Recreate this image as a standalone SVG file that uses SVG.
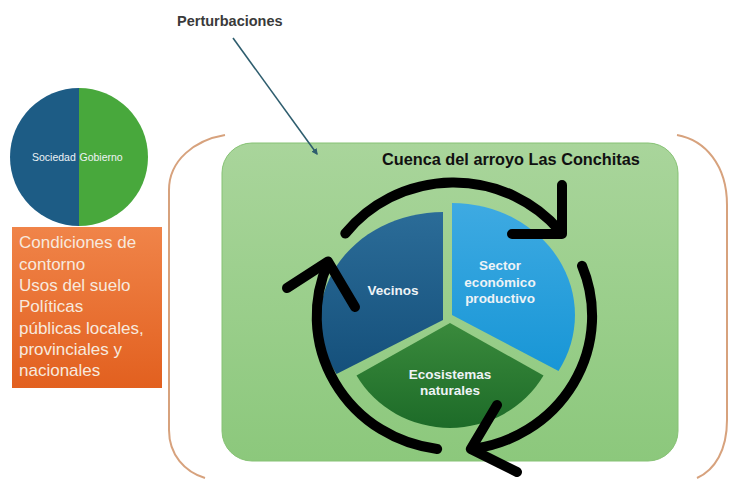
<svg xmlns="http://www.w3.org/2000/svg" width="729" height="479" viewBox="0 0 729 479">
<style>
  .lbl { font-family: "Liberation Sans", Arial, sans-serif; }
  .pie { fill: #eef3f6; font-weight: bold; font-size: 13.5px; text-anchor: middle; }
  .orange { fill: #f7e9de; font-size: 17px; }
  .ring { fill: none; stroke: #000; stroke-width: 10; stroke-linecap: round; stroke-linejoin: round; }
  .bracket { fill: none; stroke: #d7a27d; stroke-width: 2; }
</style>
<defs>
  <linearGradient id="gBox" x1="0" y1="0" x2="0" y2="1">
    <stop offset="0" stop-color="#a9d59b"/>
    <stop offset="1" stop-color="#8cc87c"/>
  </linearGradient>
  <linearGradient id="gOr" x1="0" y1="0" x2="0" y2="1">
    <stop offset="0" stop-color="#f08449"/>
    <stop offset="1" stop-color="#e2601f"/>
  </linearGradient>
  <linearGradient id="gVec" x1="0" y1="0" x2="0" y2="1">
    <stop offset="0" stop-color="#2b6c98"/>
    <stop offset="1" stop-color="#15507b"/>
  </linearGradient>
  <linearGradient id="gSec" x1="0" y1="0" x2="0" y2="1">
    <stop offset="0" stop-color="#3eaae2"/>
    <stop offset="1" stop-color="#1896d6"/>
  </linearGradient>
  <linearGradient id="gEco" x1="0" y1="0" x2="0" y2="1">
    <stop offset="0" stop-color="#3a8a3c"/>
    <stop offset="1" stop-color="#1d6b28"/>
  </linearGradient>
  <marker id="ah" viewBox="0 0 10 10" refX="8" refY="5" markerWidth="4" markerHeight="4" orient="auto">
    <path d="M0,0 L10,5 L0,10 Z" fill="#2e5d6e"/>
  </marker>
</defs>

<g id="brackets">
  <path class="bracket" d="M225,135 C195,140 169,160 169,190 L169,430 C169,455 185,472 205,478"/>
  <path class="bracket" d="M677,135 C705,140 727,165 727,205 L727,420 C727,450 715,470 697,478"/>
</g>

<g id="cuenca">
  <rect x="222" y="143" width="456" height="318" rx="30" ry="30" fill="url(#gBox)" stroke="#86c274" stroke-width="1"/>
  <text class="lbl" x="382" y="165" font-size="16.3" font-weight="bold" fill="#111">Cuenca del arroyo Las Conchitas</text>
</g>

<g id="actores">
  <path d="M79,88 A69,69 0 0,0 79,226 Z" fill="#1d5c85"/>
  <path d="M79,88 A69,69 0 0,1 79,226 Z" fill="#48a83c"/>
  <text class="lbl" x="32" y="161" font-size="10.5" fill="#eef3f6">Sociedad</text>
  <text class="lbl" x="79.5" y="161" font-size="10.5" fill="#eef3f6">Gobierno</text>
</g>

<g id="condiciones">
  <rect x="12" y="227" width="150" height="161" fill="url(#gOr)"/>
  <text class="lbl orange" x="19">
    <tspan x="19" y="248">Condiciones de</tspan>
    <tspan x="19" y="270">contorno</tspan>
    <tspan x="19" y="291">Usos del suelo</tspan>
    <tspan x="19" y="312">Políticas</tspan>
    <tspan x="19" y="334">públicas locales,</tspan>
    <tspan x="19" y="355">provinciales y</tspan>
    <tspan x="19" y="376">nacionales</tspan>
  </text>
</g>

<g id="perturbaciones">
  <text class="lbl" x="177" y="26" font-size="14.5" font-weight="bold" fill="#3a3a3a">Perturbaciones</text>
</g>

<g id="vecinos">
  <path d="M443,320 L443,212 A123,108 0 0,0 336.5,374 Z" fill="url(#gVec)"/>
  <text class="lbl pie" x="393" y="295">Vecinos</text>
</g>
<g id="sector">
  <path d="M452,315 L452,203 A123,112 0 0,1 558.5,371 Z" fill="url(#gSec)"/>
  <text class="lbl pie" x="500" y="270">Sector</text>
  <text class="lbl pie" x="500" y="287">económico</text>
  <text class="lbl pie" x="500" y="303">productivo</text>
</g>
<g id="ecosistemas">
  <path d="M450,323 L543.5,375.5 A108,105 0 0,1 356.5,375.5 Z" fill="url(#gEco)"/>
  <text class="lbl pie" x="450" y="379">Ecosistemas</text>
  <text class="lbl pie" x="450" y="395">naturales</text>
</g>

<g id="connectors">
  <line x1="233" y1="38" x2="317" y2="154" stroke="#2e5d6e" stroke-width="1.6" marker-end="url(#ah)"/>
  <path class="ring" d="M345.3,233.5 A138,134 0 0,1 560,231"/>
  <path class="ring" d="M562,185 L562,234 L512,234"/>
  <path class="ring" d="M582,265.8 A138,134 0 0,1 472,449"/>
  <path class="ring" d="M497,405 L470.8,449 L517,472"/>
  <path class="ring" d="M437.2,449 A138,134 0 0,1 328,263"/>
  <path class="ring" d="M287,288 L328,261.5 L355,307"/>
</g>
</svg>
